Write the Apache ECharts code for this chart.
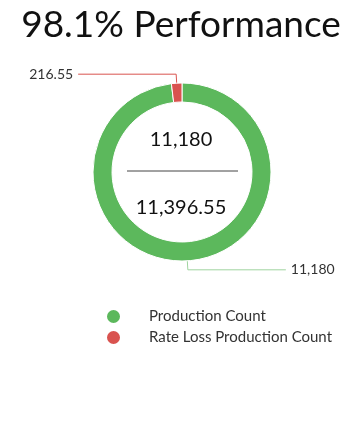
<!DOCTYPE html>
<html><head><meta charset="utf-8">
<script src="https://cdn.jsdelivr.net/npm/echarts@6/dist/echarts.min.js"></script>
<style>html,body{margin:0;padding:0;background:#fff}#c{width:362px;height:433px}</style>
</head><body><div id="c"></div>
<script>
const categories = ['Production Count', 'Rate Loss Production Count'];
const values = [11180, 216.55];
const colors = ['#5cb85c', '#d9534f'];
const titleText = '98.1% Performance';
const centerTop = '11,180';
const centerBottom = '11,396.55';

const chart = echarts.init(document.getElementById('c'));
const fmt = v => v.toLocaleString('en-US', {maximumFractionDigits: 2});
chart.setOption({
  animation: false,
  title: {
    text: titleText, left: 'center', top: 2,
    textStyle: {fontFamily: 'Lato', fontWeight: 'normal', fontSize: 37, color: '#111'}
  },
  legend: {
    orient: 'vertical', left: 100, top: 303, itemGap: 4,
    icon: 'circle', itemWidth: 15, itemHeight: 15,
    textStyle: {fontFamily: 'Lato', fontSize: 15, color: '#333', padding: [0, 0, 0, 23]},
    data: categories
  },
  graphic: [
    {type: 'text', left: 'center', top: 130, style: {text: centerTop, font: '20px Lato', fill: '#111'}},
    {type: 'line', shape: {x1: 127, y1: 171, x2: 238, y2: 171}, style: {stroke: '#444', lineWidth: 1}},
    {type: 'text', left: 'center', top: 198, style: {text: centerBottom, font: '20px Lato', fill: '#111'}}
  ],
  series: [{
    type: 'pie',
    center: [182, 172],
    radius: [70, 89],
    startAngle: 90,
    clockwise: true,
    avoidLabelOverlap: false,
    itemStyle: {borderColor: '#fff', borderWidth: 1},
    label: {
      show: true, position: 'outside', fontFamily: 'Lato', fontSize: 14, color: '#333',
      formatter: p => fmt(p.value)
    },
    labelLine: {show: true, length: 9, length2: 98, smooth: false},
    emphasis: {disabled: true},
    data: categories.map((n, i) => ({
      name: n, value: values[i],
      itemStyle: {color: colors[i]},
      labelLine: {lineStyle: {color: i === 0 ? '#9fd49f' : colors[i]}}
    }))
  }]
});
</script></body></html>
